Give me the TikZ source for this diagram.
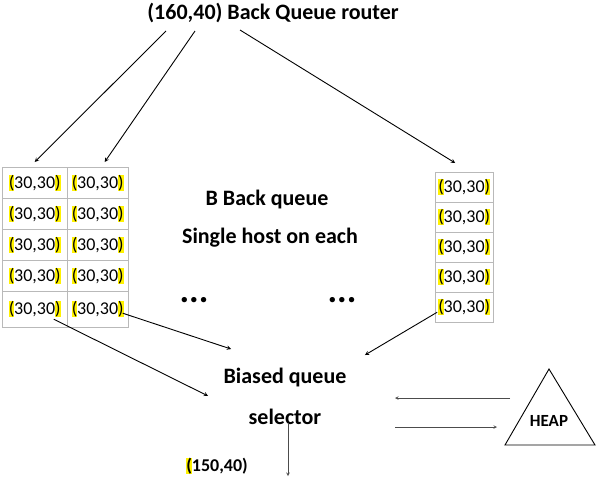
\documentclass[tikz,border=0pt]{standalone}
\usepackage{fontspec}
\setmainfont{Carlito}
\usetikzlibrary{positioning}

\newcommand{\hlp}[1]{{\setlength{\fboxsep}{0pt}\colorbox{yellow}{#1}}}
\newcommand{\cellval}{\hlp{(}30,30\hlp{)}}

\begin{document}
\begin{tikzpicture}[x=1pt, y=-1pt, >=stealth,
	cell/.style={draw=gray!55, font=\fontsize{18}{18}\selectfont, inner sep=0pt, anchor=north west},
	big/.style={font=\fontsize{22}{22}\selectfont\bfseries},
	link/.style={->, line width=0.9pt},
	thinlink/.style={->, line width=0.6pt, gray!60!black}]
	 \useasboundingbox (0, 0) rectangle (596, 477);
	 
	 \node[big] (router) at (273, 13) {(160,40) Back Queue router};
	 \coordinate (r1) at (166, 31);
	 \coordinate (r2) at (195, 31);
	 \coordinate (r3) at (240, 30);
	 
	 % left back queues
	 \foreach \r/\y/\h in {1/167/31, 2/198/31, 3/229/31, 4/260/31, 5/291/36}
	 {
	 \node[cell, minimum width=65pt, minimum height=\h pt] (a\r) at (2, \y) {\cellval};
	 \node[cell, minimum width=61pt, minimum height=\h pt] (b\r) at (67, \y) {\cellval};
	 }
	 
	 % right back queue
	 \foreach \r/\y in {1/172, 2/202, 3/232, 4/262, 5/292}
	 \node[cell, minimum width=58pt, minimum height=30pt] (c\r) at (435, \y) {\cellval};
	 
	 \node[big] (bback) at (267, 200) {B Back queue};
	 \node[big] (single) at (270, 238) {Single host on each};
	 
	 \node[font=\fontsize{36}{36}\selectfont\bfseries] (dotsl) at (194, 300) {...};
	 \node[font=\fontsize{36}{36}\selectfont\bfseries] (dotsr) at (342, 300) {...};
	 
	 \node[big] (biased) at (285, 378) {Biased queue};
	 \node[big] (selector) at (285, 417) {selector};
	 
	 % heap
	 \draw[line width=0.9pt] (549, 369) -- (595, 445) -- (505, 445) -- cycle;
	 \node[font=\fontsize{17}{17}\selectfont\bfseries] (heap) at (549, 421) {HEAP};
	 \coordinate (h1) at (510, 398);
	 \coordinate (h2) at (497, 427);
	 \coordinate (s1) at (395, 398);
	 \coordinate (s2) at (395, 427);
	 
	 \node[font=\fontsize{18}{18}\selectfont\bfseries] (front) at (217, 466) {\hlp{(}150,40)};
	 \coordinate (out) at (288, 476);
	 
	 \draw[link] (r1) -- ([yshift=5pt]a1.north);
	 \draw[link] (r2) -- ([xshift=7pt, yshift=5pt]b1.north);
	 \draw[link] (r3) -- ([xshift=-9pt, yshift=9pt]c1.north);
	 
	 \draw[link] ([xshift=19pt, yshift=-10pt]a5.center) -- ([xshift=-12pt, yshift=-5pt]biased.south west);
	 \draw[link] ([xshift=25pt, yshift=-4pt]b5.center) -- ([xshift=11pt, yshift=16pt]biased.north west);
	 \draw[link] ([xshift=-27pt, yshift=-5pt]c5.center) -- ([xshift=15pt, yshift=10pt]biased.north east);
	 
	 \draw[thinlink] (h1) -- (s1);
	 \draw[thinlink] (s2) -- (h2);
	 \draw[thinlink] ([xshift=3pt, yshift=-6pt]selector.center) -- (out);
\end{tikzpicture}
\end{document}
